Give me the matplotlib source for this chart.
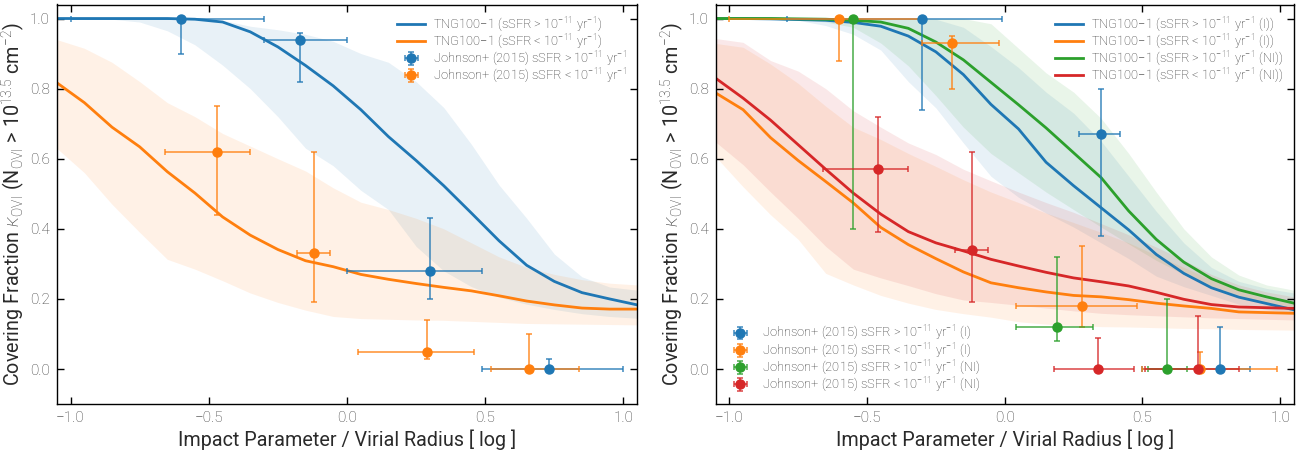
import numpy as np
import matplotlib
matplotlib.use("Agg")
import matplotlib.pyplot as plt

plt.rcParams['font.family'] = ['Roboto', 'DejaVu Sans']
plt.rcParams['font.weight'] = 'light'
plt.rcParams['mathtext.fontset'] = 'custom'
plt.rcParams['mathtext.rm'] = 'Roboto:light'
plt.rcParams['mathtext.it'] = 'Roboto:italic:light'
plt.rcParams['mathtext.bf'] = 'Roboto:bold'

C_BLUE, C_ORANGE, C_GREEN, C_RED = '#1f77b4', '#ff7f0e', '#2ca02c', '#d62728'
TXT = '#2a2a2a'

# common x grid (log impact parameter / virial radius)
x_grid = [-1.05, -0.95, -0.85, -0.75, -0.65, -0.55, -0.45, -0.35, -0.25, -0.15, -0.05,
          0.05, 0.15, 0.25, 0.35, 0.45, 0.55, 0.65, 0.75, 0.85, 0.95, 1.05]

# ---- left panel: TNG100-1 medians and bands
left_sf = [1.0, 1.0, 1.0, 1.0, 1.0, 0.998, 0.99, 0.962, 0.919, 0.866, 0.808,
           0.74, 0.663, 0.595, 0.523, 0.445, 0.366, 0.296, 0.25, 0.218, 0.2, 0.183]
left_sf_hi = [1.0, 1.0, 1.0, 1.0, 1.0, 1.0, 0.995, 0.978, 0.968, 0.955, 0.935,
              0.9, 0.875, 0.82, 0.746, 0.641, 0.525, 0.43, 0.328, 0.263, 0.234, 0.225]
left_sf_lo = [1.0, 1.0, 0.998, 0.99, 0.965, 0.925, 0.867, 0.8, 0.72, 0.63, 0.58,
              0.51, 0.455, 0.35, 0.28, 0.235, 0.205, 0.185, 0.17, 0.158, 0.15, 0.145]
left_q = [0.817, 0.76, 0.69, 0.634, 0.563, 0.502, 0.434, 0.382, 0.341, 0.309, 0.292,
          0.27, 0.256, 0.244, 0.233, 0.223, 0.209, 0.194, 0.183, 0.174, 0.171, 0.171]
left_q_hi = [0.94, 0.915, 0.875, 0.82, 0.76, 0.72, 0.672, 0.636, 0.6, 0.565, 0.517,
             0.476, 0.455, 0.43, 0.4, 0.36, 0.32, 0.29, 0.27, 0.255, 0.245, 0.24]
left_q_lo = [0.63, 0.56, 0.47, 0.39, 0.313, 0.285, 0.252, 0.217, 0.19, 0.168, 0.15,
             0.144, 0.142, 0.14, 0.139, 0.136, 0.133, 0.13, 0.129, 0.128, 0.127, 0.126]

# ---- right panel: isolated (I) / non-isolated (NI)
r_sf_i = [1.0, 1.0, 0.999, 0.997, 0.995, 0.989, 0.978, 0.95, 0.905, 0.84, 0.755,
          0.685, 0.59, 0.523, 0.46, 0.397, 0.327, 0.273, 0.232, 0.205, 0.187, 0.169]
r_sf_i_hi = [1.0, 1.0, 1.0, 1.0, 1.0, 1.0, 1.0, 1.0, 0.998, 0.975, 0.92,
             0.86, 0.79, 0.73, 0.65, 0.55, 0.45, 0.36, 0.29, 0.25, 0.23, 0.217]
r_sf_i_lo = [1.0, 1.0, 0.998, 0.995, 0.98, 0.955, 0.91, 0.82, 0.745, 0.645, 0.55,
             0.49, 0.445, 0.405, 0.36, 0.315, 0.265, 0.235, 0.21, 0.185, 0.17, 0.16]
r_q_i = [0.788, 0.74, 0.66, 0.595, 0.535, 0.474, 0.404, 0.355, 0.315, 0.277, 0.246,
         0.232, 0.22, 0.21, 0.206, 0.198, 0.188, 0.18, 0.173, 0.163, 0.161, 0.159]
r_q_i_hi = [0.929, 0.918, 0.87, 0.815, 0.75, 0.69, 0.655, 0.615, 0.578, 0.54, 0.505,
            0.475, 0.445, 0.418, 0.39, 0.36, 0.325, 0.29, 0.255, 0.225, 0.2, 0.187]
r_q_i_lo = [0.606, 0.52, 0.44, 0.37, 0.273, 0.24, 0.21, 0.188, 0.17, 0.158, 0.148,
            0.135, 0.128, 0.124, 0.121, 0.12, 0.118, 0.116, 0.115, 0.113, 0.112, 0.111]
r_sf_ni = [1.0, 1.0, 1.0, 0.999, 0.998, 0.995, 0.99, 0.972, 0.933, 0.882, 0.818,
           0.754, 0.688, 0.617, 0.546, 0.451, 0.37, 0.305, 0.258, 0.226, 0.206, 0.188]
r_sf_ni_hi = [1.0, 1.0, 1.0, 1.0, 1.0, 1.0, 1.0, 1.0, 1.0, 1.0, 0.985,
              0.915, 0.845, 0.79, 0.715, 0.615, 0.505, 0.4, 0.32, 0.268, 0.24, 0.225]
r_sf_ni_lo = [1.0, 1.0, 1.0, 0.998, 0.99, 0.975, 0.93, 0.865, 0.78, 0.69, 0.615,
              0.56, 0.505, 0.455, 0.405, 0.357, 0.31, 0.27, 0.235, 0.205, 0.19, 0.178]
r_q_ni = [0.83, 0.773, 0.71, 0.64, 0.57, 0.502, 0.442, 0.392, 0.36, 0.337, 0.313,
          0.294, 0.276, 0.26, 0.249, 0.237, 0.219, 0.199, 0.184, 0.177, 0.175, 0.173]
r_q_ni_hi = [0.943, 0.932, 0.88, 0.85, 0.8, 0.737, 0.69, 0.645, 0.612, 0.57, 0.537,
             0.505, 0.475, 0.447, 0.415, 0.383, 0.348, 0.311, 0.27, 0.24, 0.22, 0.206]
r_q_ni_lo = [0.648, 0.583, 0.505, 0.43, 0.35, 0.285, 0.26, 0.238, 0.215, 0.197, 0.19,
             0.182, 0.174, 0.166, 0.159, 0.155, 0.152, 0.149, 0.146, 0.144, 0.142, 0.14]

# ---- Johnson+ (2015) observations: x, y, x range, y range
j_sf_x = [-0.60, -0.17, 0.30, 0.73]
j_sf_y = [1.0, 0.94, 0.28, 0.0]
j_sf_xlo = [-1.0, -0.30, 0.0, 0.49]
j_sf_xhi = [-0.30, 0.0, 0.49, 1.0]
j_sf_ylo = [0.90, 0.82, 0.20, 0.0]
j_sf_yhi = [1.0, 0.96, 0.43, 0.03]

j_q_x = [-0.47, -0.12, 0.29, 0.66]
j_q_y = [0.62, 0.33, 0.05, 0.0]
j_q_xlo = [-0.66, -0.18, 0.04, 0.52]
j_q_xhi = [-0.35, -0.06, 0.46, 0.84]
j_q_ylo = [0.44, 0.19, 0.03, 0.0]
j_q_yhi = [0.75, 0.62, 0.14, 0.10]

j_sf_i_x = [-0.30, 0.35, 0.78]
j_sf_i_y = [1.0, 0.67, 0.0]
j_sf_i_xlo = [-0.79, 0.27, 0.50]
j_sf_i_xhi = [-0.01, 0.42, 0.89]
j_sf_i_ylo = [0.74, 0.38, 0.0]
j_sf_i_yhi = [1.0, 0.80, 0.12]

j_q_i_x = [-0.60, -0.19, 0.28, 0.71]
j_q_i_y = [1.0, 0.93, 0.18, 0.0]
j_q_i_xlo = [-1.0, -0.30, 0.04, 0.50]
j_q_i_xhi = [-0.30, -0.02, 0.48, 0.99]
j_q_i_ylo = [0.88, 0.80, 0.12, 0.0]
j_q_i_yhi = [1.0, 0.95, 0.35, 0.05]

j_sf_ni_x = [-0.55, 0.19, 0.59]
j_sf_ni_y = [1.0, 0.12, 0.0]
j_sf_ni_xlo = [-0.55, 0.04, 0.52]
j_sf_ni_xhi = [-0.55, 0.32, 0.66]
j_sf_ni_ylo = [0.40, 0.08, 0.0]
j_sf_ni_yhi = [1.0, 0.32, 0.20]

j_q_ni_x = [-0.46, -0.12, 0.34, 0.70]
j_q_ni_y = [0.57, 0.34, 0.0, 0.0]
j_q_ni_xlo = [-0.66, -0.18, 0.18, 0.51]
j_q_ni_xhi = [-0.35, -0.06, 0.47, 0.85]
j_q_ni_ylo = [0.39, 0.19, 0.0, 0.0]
j_q_ni_yhi = [0.72, 0.62, 0.09, 0.15]

SF = r'sSFR > 10$^{-11}$ yr$^{-1}$'
Q = r'sSFR < 10$^{-11}$ yr$^{-1}$'


def draw_obs(ax, x, y, xlo, xhi, ylo, yhi, color, label):
    x = np.array(x); y = np.array(y)
    xerr = [x - np.array(xlo), np.array(xhi) - x]
    yerr = [y - np.array(ylo), np.array(yhi) - y]
    ecol = matplotlib.colors.to_rgba(color, 0.8)
    return ax.errorbar(x, y, xerr=xerr, yerr=yerr, fmt='o', color=color, ecolor=ecol,
                       markersize=6.5, elinewidth=1.2, capsize=2.5, capthick=1.2,
                       label=label, zorder=4)


def style_axes(ax):
    ax.set_xlim(-1.05, 1.05)
    ax.set_ylim(-0.1, 1.04)
    ax.set_xticks([-1.0, -0.5, 0.0, 0.5, 1.0])
    ax.set_yticks([0.0, 0.2, 0.4, 0.6, 0.8, 1.0])
    ax.tick_params(direction='in', top=True, right=True, length=5, width=1,
                   labelsize=11, labelcolor='#3a3a3a', pad=5)
    for s in ax.spines.values():
        s.set_linewidth(1.0)
    ax.set_xlabel('Impact Parameter / Virial Radius [ log ]', fontsize=14.2, color=TXT,
                  labelpad=3)
    ax.set_ylabel(r'Covering Fraction $\kappa_{\rm OVI}$ (N$_{\rm OVI}$ > 10$^{13.5}$ cm$^{-2}$)',
                  fontsize=14.2, color=TXT, labelpad=2)


def make_legend(ax, handles, **kw):
    leg = ax.legend(handles=handles, frameon=False, fontsize=9.3, handlelength=2.2,
                    handletextpad=0.6, labelspacing=-0.14, borderaxespad=0.4, **kw)
    for t in leg.get_texts():
        t.set_color('#333333')
    return leg


fig = plt.figure(figsize=(13.04, 4.5), dpi=100)
ax1 = fig.add_axes([0.0435, 0.102, 0.4452, 0.888])
ax2 = fig.add_axes([0.5487, 0.102, 0.4436, 0.888])

# left panel
ax1.fill_between(x_grid, left_sf_lo, left_sf_hi, color=C_BLUE, alpha=0.1, lw=0)
ax1.fill_between(x_grid, left_q_lo, left_q_hi, color=C_ORANGE, alpha=0.1, lw=0)
l1, = ax1.plot(x_grid, left_sf, color=C_BLUE, lw=2.0, label='TNG100\u22121 (' + SF + ')')
l2, = ax1.plot(x_grid, left_q, color=C_ORANGE, lw=2.0, label='TNG100\u22121 (' + Q + ')')
e1 = draw_obs(ax1, j_sf_x, j_sf_y, j_sf_xlo, j_sf_xhi, j_sf_ylo, j_sf_yhi, C_BLUE,
              'Johnson+ (2015) ' + SF)
e2 = draw_obs(ax1, j_q_x, j_q_y, j_q_xlo, j_q_xhi, j_q_ylo, j_q_yhi, C_ORANGE,
              'Johnson+ (2015) ' + Q)
style_axes(ax1)
make_legend(ax1, [l1, l2, e1, e2], loc='upper right')

# right panel
ax2.fill_between(x_grid, r_sf_i_lo, r_sf_i_hi, color=C_BLUE, alpha=0.1, lw=0)
ax2.fill_between(x_grid, r_q_i_lo, r_q_i_hi, color=C_ORANGE, alpha=0.1, lw=0)
ax2.fill_between(x_grid, r_sf_ni_lo, r_sf_ni_hi, color=C_GREEN, alpha=0.1, lw=0)
ax2.fill_between(x_grid, r_q_ni_lo, r_q_ni_hi, color=C_RED, alpha=0.1, lw=0)
k1, = ax2.plot(x_grid, r_sf_i, color=C_BLUE, lw=2.0, label='TNG100\u22121 (' + SF + ' (I))')
k2, = ax2.plot(x_grid, r_q_i, color=C_ORANGE, lw=2.0, label='TNG100\u22121 (' + Q + ' (I))')
k3, = ax2.plot(x_grid, r_sf_ni, color=C_GREEN, lw=2.0, label='TNG100\u22121 (' + SF + ' (NI))')
k4, = ax2.plot(x_grid, r_q_ni, color=C_RED, lw=2.0, label='TNG100\u22121 (' + Q + ' (NI))')
f1 = draw_obs(ax2, j_sf_i_x, j_sf_i_y, j_sf_i_xlo, j_sf_i_xhi, j_sf_i_ylo, j_sf_i_yhi,
              C_BLUE, 'Johnson+ (2015) ' + SF + ' (I)')
f2 = draw_obs(ax2, j_q_i_x, j_q_i_y, j_q_i_xlo, j_q_i_xhi, j_q_i_ylo, j_q_i_yhi,
              C_ORANGE, 'Johnson+ (2015) ' + Q + ' (I)')
f3 = draw_obs(ax2, j_sf_ni_x, j_sf_ni_y, j_sf_ni_xlo, j_sf_ni_xhi, j_sf_ni_ylo, j_sf_ni_yhi,
              C_GREEN, 'Johnson+ (2015) ' + SF + ' (NI)')
f4 = draw_obs(ax2, j_q_ni_x, j_q_ni_y, j_q_ni_xlo, j_q_ni_xhi, j_q_ni_ylo, j_q_ni_yhi,
              C_RED, 'Johnson+ (2015) ' + Q + ' (NI)')
style_axes(ax2)
leg_a = make_legend(ax2, [k1, k2, k3, k4], loc='upper right')
ax2.add_artist(leg_a)
make_legend(ax2, [f1, f2, f3, f4], loc='lower left', bbox_to_anchor=(0.0, 0.0))

fig.savefig('out.png', dpi=100)
